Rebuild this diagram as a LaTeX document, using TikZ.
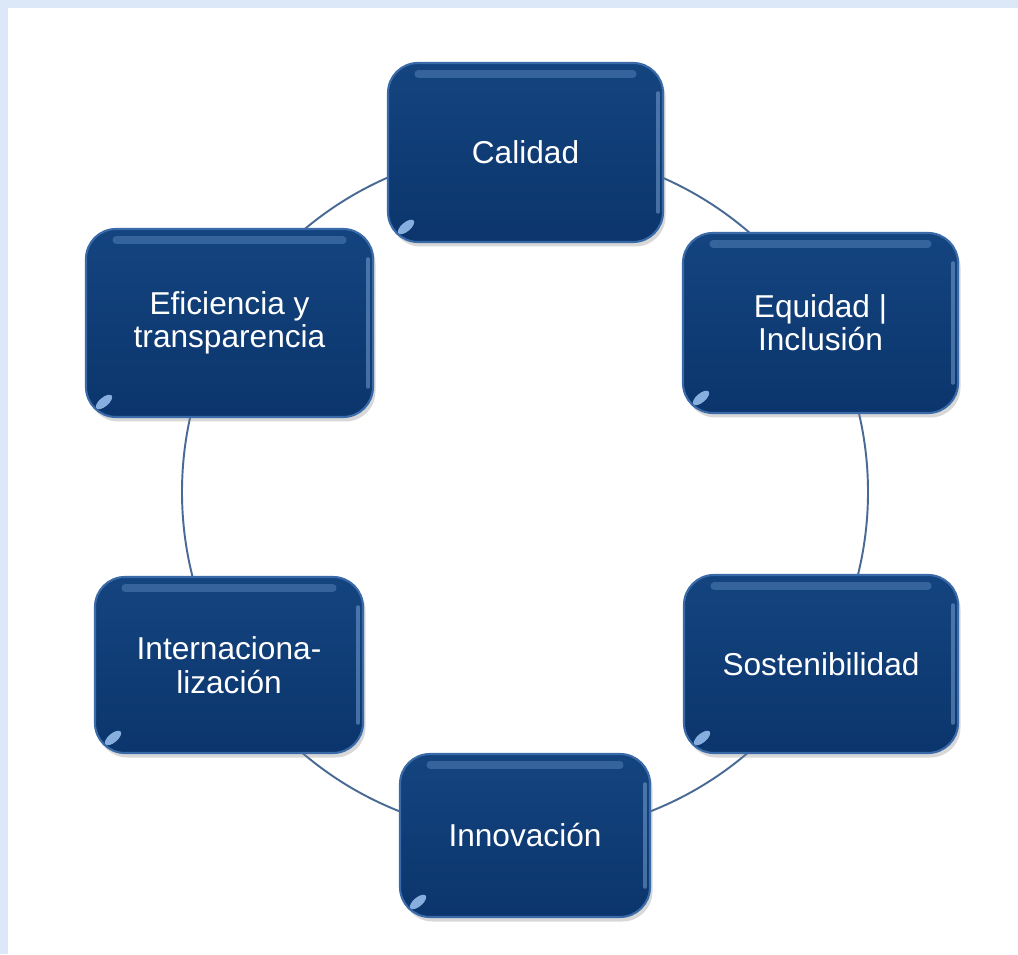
\documentclass[tikz,border=0pt]{standalone}
\usepackage{fontspec}
\setmainfont{Liberation Sans}
\usepackage{tikz}
\usetikzlibrary{calc}
\usetikzlibrary{shadows}

\definecolor{frameblue}{HTML}{DCE8F7}
\definecolor{ringblue}{HTML}{4A6A96}
\definecolor{boxtop}{HTML}{14447F}
\definecolor{boxbottom}{HTML}{0B356C}
\definecolor{boxedge}{HTML}{3A6AA8}
\definecolor{boxhi}{HTML}{9CC4F2}

\begin{document}
\begin{tikzpicture}[
  valuebox/.style={rounded corners=0.6cm,top color=boxtop,bottom color=boxbottom,
    draw=boxedge,line width=1.2pt,text=white,align=center,inner sep=0pt,
    font=\fontsize{18}{19}\selectfont,
    drop shadow={opacity=0.3,shadow xshift=0.05cm,shadow yshift=-0.09cm},
    path picture={
      \draw[boxhi,line width=4pt,opacity=0.25,line cap=round]
        ($(path picture bounding box.north west)+(0.6,-0.22)$) -- ($(path picture bounding box.north east)+(-0.6,-0.22)$);
      \draw[boxhi,line width=2pt,opacity=0.4,line cap=round]
        ($(path picture bounding box.north east)+(-0.1,-0.6)$) -- ($(path picture bounding box.south east)+(-0.1,0.6)$);
      \fill[boxhi,opacity=0.85] ($(path picture bounding box.south west)+(0.36,0.3)$)
        ellipse[x radius=0.2cm,y radius=0.09cm,rotate=40];
    }},
]
\fill[frameblue] (0,0) rectangle (20.36,19.08);
\fill[white] (0.16,0) rectangle (20.36,18.92);
\useasboundingbox (0,0) rectangle (20.36,19.08);

\coordinate (ring) at (10.5,9.24);
\draw[ringblue,line width=1.1pt] (ring) circle[radius=6.86];

\node[valuebox,minimum width=5.5cm,minimum height=3.58cm] (calidad) at (10.51,16.03) {Calidad};
\node[valuebox,minimum width=5.5cm,minimum height=3.6cm] (equidad) at (16.41,12.62) {Equidad |\\Inclusión};
\node[valuebox,minimum width=5.48cm,minimum height=3.56cm] (sosten) at (16.42,5.80) {Sostenibilidad};
\node[valuebox,minimum width=5.0cm,minimum height=3.26cm] (innova) at (10.50,2.37) {Innovación};
\node[valuebox,minimum width=5.36cm,minimum height=3.52cm] (internac) at (4.58,5.78) {Internaciona-\\lización};
\node[valuebox,minimum width=5.74cm,minimum height=3.76cm] (eficien) at (4.59,12.62) {Eficiencia y\\transparencia};
\end{tikzpicture}
\end{document}
